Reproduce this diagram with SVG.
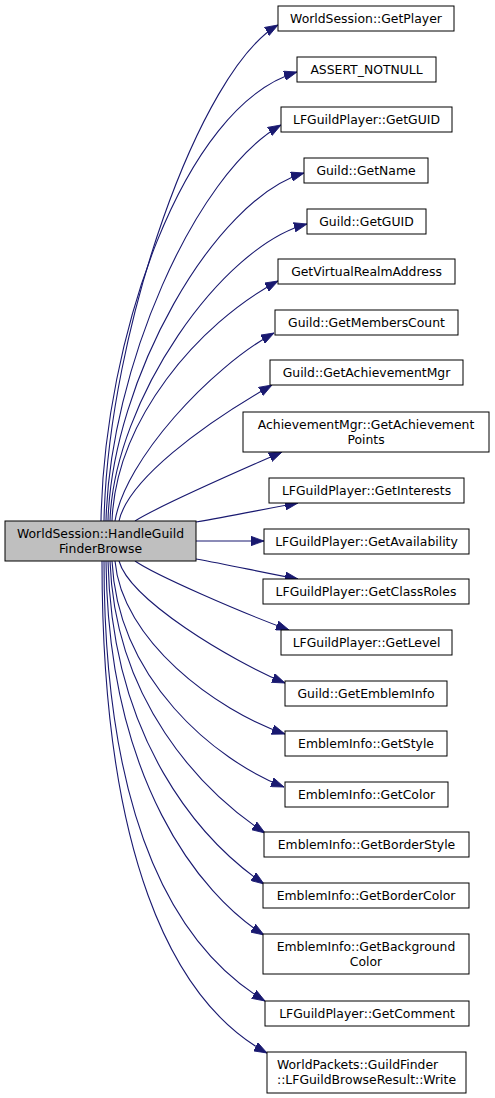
<svg xmlns="http://www.w3.org/2000/svg" width="495" height="1098" viewBox="0 0 495 1098">
<style>
.n rect{fill:#ffffff;stroke:#000000;stroke-width:1}
#main rect{fill:#bfbfbf}
text{font-family:"DejaVu Sans","Liberation Sans",sans-serif;font-size:12.4px;fill:#000000;text-anchor:middle}
.e path{fill:none;stroke:#191970;stroke-width:1.1;marker-end:url(#ah)}
</style>
<defs>
<marker id="ah" markerUnits="userSpaceOnUse" markerWidth="13" markerHeight="10" viewBox="0 0 12.5 9" refX="12.5" refY="4.5" orient="auto">
<path d="M0,0 L12.5,4.5 L0,9 z" fill="#191970" stroke="#191970" stroke-width="0.8"/>
</marker>
</defs>
<rect width="495" height="1098" fill="#ffffff"/>
<g id="edges" class="e">
<path d="M104,521 C108,330 200,70 278,25"/>
<path d="M101,521 C104,340 182,106 297,72"/>
<path d="M106,521 C110,370 194,175 281,125"/>
<path d="M108,521 C112,380 214,199 304,173"/>
<path d="M110,521 C114,400 222,246 307,224"/>
<path d="M112,521 C116,420 198,324 278,281"/>
<path d="M115,521 C125,460 210,368 274,333"/>
<path d="M119,521 C128,480 202,425 272,385"/>
<path d="M135,521 C160,505 230,475 282,452"/>
<path d="M196,522 C230,516 260,510 298,503"/>
<path d="M196,541 L264,541"/>
<path d="M196,559 C230,565 260,572 298,579"/>
<path d="M135,561 C155,575 240,612 289,630"/>
<path d="M119,561 C130,600 230,660 285,683"/>
<path d="M115,561 C122,640 215,710 285,734"/>
<path d="M112,561 C118,680 215,760 284,787"/>
<path d="M110,561 C115,700 200,790 265,833"/>
<path d="M108,561 C112,740 200,840 264,884"/>
<path d="M106,561 C108,780 200,895 264,935"/>
<path d="M104,561 C104,830 180,950 265,1001"/>
<path d="M102,561 C102,850 170,1000 267,1053"/>
</g>
<g id="main" class="n"><rect x="5" y="521" width="191" height="40"/><text x="100.5" y="537.5">WorldSession::HandleGuild</text><text x="100.5" y="552.5">FinderBrowse</text></g>
<g id="n1" class="n"><rect x="278" y="6" width="176" height="25"/><text x="366" y="22.5">WorldSession::GetPlayer</text></g>
<g id="n2" class="n"><rect x="297" y="57" width="139" height="25"/><text x="366.5" y="73.5">ASSERT_NOTNULL</text></g>
<g id="n3" class="n"><rect x="281" y="107" width="171" height="25"/><text x="366.5" y="123.5">LFGuildPlayer::GetGUID</text></g>
<g id="n4" class="n"><rect x="304" y="158" width="124" height="25"/><text x="366" y="174.5">Guild::GetName</text></g>
<g id="n5" class="n"><rect x="307" y="209" width="119" height="25"/><text x="366.5" y="225.5">Guild::GetGUID</text></g>
<g id="n6" class="n"><rect x="278" y="259" width="177" height="25"/><text x="366.5" y="275.5">GetVirtualRealmAddress</text></g>
<g id="n7" class="n"><rect x="275" y="310" width="183" height="25"/><text x="366.5" y="326.5">Guild::GetMembersCount</text></g>
<g id="n8" class="n"><rect x="270" y="360" width="193" height="25"/><text x="366.5" y="376.5">Guild::GetAchievementMgr</text></g>
<g id="n9" class="n"><rect x="243" y="412" width="246" height="40"/><text x="366" y="428.5">AchievementMgr::GetAchievement</text><text x="366" y="443.5">Points</text></g>
<g id="n10" class="n"><rect x="269" y="478" width="195" height="25"/><text x="366.5" y="494.5">LFGuildPlayer::GetInterests</text></g>
<g id="n11" class="n"><rect x="264" y="529" width="205" height="25"/><text x="366.5" y="545.5">LFGuildPlayer::GetAvailability</text></g>
<g id="n12" class="n"><rect x="263" y="579" width="206" height="25"/><text x="366" y="595.5">LFGuildPlayer::GetClassRoles</text></g>
<g id="n13" class="n"><rect x="281" y="630" width="171" height="25"/><text x="366.5" y="646.5">LFGuildPlayer::GetLevel</text></g>
<g id="n14" class="n"><rect x="285" y="681" width="162" height="25"/><text x="366" y="697.5">Guild::GetEmblemInfo</text></g>
<g id="n15" class="n"><rect x="285" y="731" width="162" height="25"/><text x="366" y="747.5">EmblemInfo::GetStyle</text></g>
<g id="n16" class="n"><rect x="285" y="782" width="163" height="25"/><text x="366.5" y="798.5">EmblemInfo::GetColor</text></g>
<g id="n17" class="n"><rect x="264" y="832" width="205" height="25"/><text x="366.5" y="848.5">EmblemInfo::GetBorderStyle</text></g>
<g id="n18" class="n"><rect x="263" y="883" width="206" height="25"/><text x="366" y="899.5">EmblemInfo::GetBorderColor</text></g>
<g id="n19" class="n"><rect x="263" y="934" width="206" height="40"/><text x="366" y="950.5">EmblemInfo::GetBackground</text><text x="366" y="965.5">Color</text></g>
<g id="n20" class="n"><rect x="265" y="1001" width="204" height="25"/><text x="367" y="1017.5">LFGuildPlayer::GetComment</text></g>
<g id="n21" class="n"><rect x="267" y="1052" width="199" height="41"/><text x="277" y="1068.5" style="text-anchor:start">WorldPackets::GuildFinder</text><text x="277" y="1083.5" style="text-anchor:start">::LFGuildBrowseResult::Write</text></g>
</svg>
